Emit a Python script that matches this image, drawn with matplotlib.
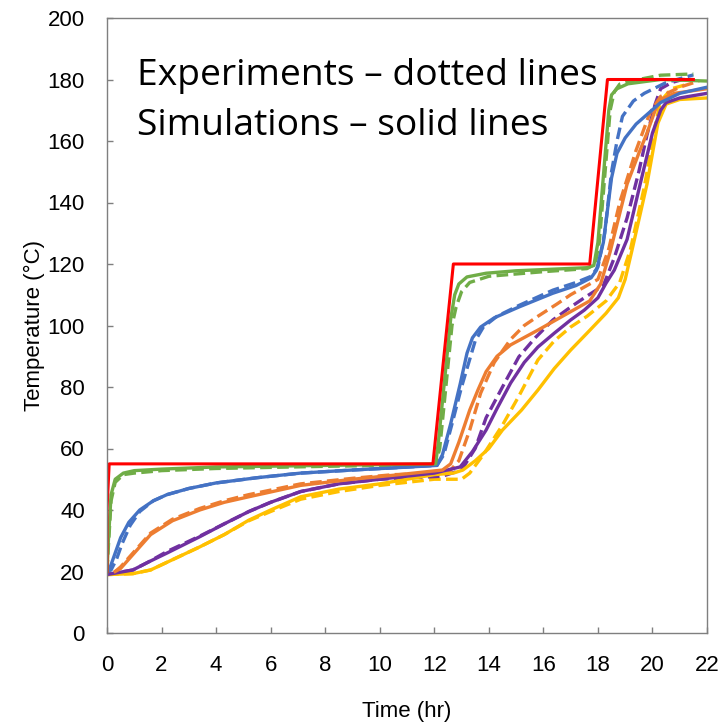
import matplotlib
matplotlib.use("Agg")
import matplotlib.pyplot as plt

# ---------------- data ----------------
t_setpoint = [0, 0.0, 0.08, 11.95, 12.7, 17.7, 18.35, 21.5]
T_setpoint = [20, 40, 55, 55, 120, 120, 180, 180]

t_green_sim = [0, 0.05, 0.15, 0.3, 0.6, 1.0, 2, 4, 8, 12.05, 12.15, 12.6, 12.75, 12.9, 13.2, 13.9, 15, 17.6,
               17.85, 18.0, 18.4, 18.5, 18.7, 19.1, 20.3, 22]
T_green_sim = [20, 30, 45, 50, 52, 52.8, 53.3, 54, 54.5, 55, 62, 102, 110, 113.5, 115.8, 117, 117.8, 118.8,
               119.5, 127, 170, 175, 177, 178.6, 180, 179.5]
t_green_exp = [0, 0.05, 0.15, 0.3, 0.6, 1.0, 2, 4, 8, 12.05, 12.2, 12.65, 12.8, 13.0, 13.3, 14, 16, 17.6,
               17.9, 18.05, 18.45, 18.6, 18.8, 19.2, 20.3, 21.5]
T_green_exp = [20, 28, 43, 49, 51.5, 52, 52.8, 53.5, 54.2, 54.8, 60, 100, 106, 111, 114, 116, 117.5, 118.5,
               120, 127, 170, 176, 178.5, 179.5, 181.4, 181.8]

t_blue_sim = [0, 0.1, 0.3, 0.5, 0.8, 1.2, 1.7, 2.2, 3, 4, 5.5, 7.1, 9, 10.5, 12.1, 12.3, 12.6, 12.95, 13.2,
              13.4, 13.7, 14.2, 15.1, 16.35, 17.2, 17.75, 17.95, 18.2, 18.5, 18.7, 19.0, 19.4, 20.3, 21, 22]
T_blue_sim = [20, 21, 26, 31, 36, 40, 43, 45, 47, 48.8, 50.5, 52, 53, 53.7, 54.5, 58, 68, 81, 91,
              96, 99.5, 102.5, 106, 110.5, 113, 115.5, 118, 127, 148, 156, 161, 165.5, 172.5, 175.5, 177.5]
t_blue_exp = [0, 0.15, 0.35, 0.55, 0.85, 1.2, 1.7, 2.2, 3, 4, 5.5, 7.1, 9, 10.5, 12.1, 12.35, 12.65, 13.0,
              13.3, 13.5, 13.8, 14.3, 15.1, 16.35, 17.2, 17.75, 18.0, 18.25, 18.5, 18.7, 18.9, 19.3, 19.7,
              20.5, 21.5]
T_blue_exp = [20, 20.5, 24, 29, 35, 39.5, 43, 45, 47, 48.8, 50.5, 52, 53, 53.7, 54.5, 58, 68, 80,
              89, 95, 99.5, 103, 106.5, 111.5, 114, 116, 119, 130, 150, 160, 168, 173, 175.5,
              179, 181.5]

t_orange_sim = [0.3, 0.5, 1, 1.6, 2.4, 3.4, 4.3, 5.2, 7.1, 9, 10.5, 12.3, 12.6, 12.9, 13.3, 13.6, 13.9, 14.3,
                14.8, 15.8, 17.0, 17.7, 18.1, 18.45, 19.07, 19.5, 19.8, 20.1, 20.3, 20.8, 22]
T_orange_sim = [20, 21, 26, 32, 36.5, 40, 42.5, 44.3, 48, 50, 51.3, 53, 55, 62, 72.5, 79, 85, 90,
                93.7, 98.5, 104.5, 108, 113.5, 124, 146, 156, 162.6, 170, 173.5, 175.5, 177]
t_orange_exp = [0.3, 0.5, 1, 1.6, 2.4, 3.4, 4.3, 5.2, 7.1, 9, 10.5, 12.5, 12.9, 13.3, 13.7, 14.2, 14.8,
                15.3, 15.8, 16.5, 17, 17.5, 18.0, 18.4, 18.8, 19.4, 19.9, 20.3, 21, 21.7]
T_orange_exp = [20, 21.5, 26.5, 32.5, 37, 40.5, 43, 45, 48.5, 50.3, 51.5, 52, 56, 66, 78, 88, 95.5,
                100, 103, 107, 110, 112.5, 115, 125, 140, 157, 169, 174.5, 177.5, 179.5]

t_purple_sim = [0, 0.95, 1.5, 2.2, 3.4, 4.3, 5.2, 6, 7.1, 8.5, 10, 12, 12.95, 13.4, 13.9, 14.3, 14.8, 15.3,
                15.8, 16.4, 17, 17.5, 18.0, 18.3, 18.6, 19.07, 19.55, 20.0, 20.3, 20.5, 21, 22]
T_purple_sim = [19, 20.5, 23, 26, 31.3, 35.5, 39.5, 42.5, 46, 48.5, 50, 52, 54, 59, 66, 73, 81.3, 88,
                93, 97.5, 101.8, 105, 109, 113.8, 118, 128, 146, 162.6, 170, 172.5, 174, 175.5]
t_purple_exp = [0, 0.95, 1.5, 2.2, 3.4, 4.3, 5.2, 6, 7.1, 8.5, 10, 12.3, 13.0, 13.5, 13.9, 14.5, 15.1,
                15.7, 16.35, 17, 17.5, 18.2, 18.6, 19.07, 19.5, 19.8, 20.1, 20.3, 20.7, 21.1, 21.5]
T_purple_exp = [19, 20.5, 23, 26.5, 31.5, 35.5, 39.5, 42.5, 46, 48.5, 50, 51, 53, 60, 70, 80, 89.8,
                96, 101.8, 106, 109, 113, 122, 135, 150, 162, 172, 177, 179, 180, 180]

t_yellow_sim = [0, 0.95, 1.6, 2.2, 3.4, 4.3, 5.2, 6, 7.1, 8.5, 10, 12, 12.7, 13.05, 13.5, 14, 14.5, 15.2,
                15.8, 16.4, 17, 17.6, 18.3, 18.75, 19.0, 19.25, 19.8, 20.2, 20.5, 21, 22]
T_yellow_sim = [19, 19.3, 20.5, 23, 28, 32, 36.7, 40, 44.3, 46.8, 48.5, 51.5, 52, 53, 56, 60, 66, 72.5,
                79, 86, 92, 97.5, 104, 109, 115, 124.5, 146, 165.8, 172, 173.5, 174]
t_yellow_exp = [0, 0.95, 1.6, 2.2, 3.4, 4.3, 5.2, 6, 7.1, 8.5, 10, 12.0, 13.0, 13.3, 13.8, 14.5, 15.1,
                15.8, 16.4, 17, 17.6, 18.3, 18.8, 19.2, 19.7, 20.1, 20.3, 20.7, 21.3]
T_yellow_exp = [19, 19.3, 20.5, 23, 28, 32, 36.5, 39.5, 43.5, 46, 48, 50, 50, 52, 58, 67.6, 77,
                88.8, 95, 99.5, 103, 108, 114, 125, 145, 165, 173, 177, 178.5]

x_ticks = list(range(0, 23, 2))
y_ticks = list(range(0, 201, 20))

# ---------------- plot ----------------
plt.rcParams['font.family'] = ['Liberation Sans', 'DejaVu Sans']

fig = plt.figure(figsize=(7.18, 7.24), dpi=100)
ax = fig.add_axes([107 / 718, (724 - 633) / 724, 600 / 718, 615 / 724])

c_red = '#FF0000'
c_green = '#70AD47'
c_blue = '#4472C4'
c_orange = '#ED7D31'
c_purple = '#7030A0'
c_yellow = '#FFC000'

lw = 2.4
dash = (3.5, 1.6)

for t, T, c in [(t_yellow_exp, T_yellow_exp, c_yellow), (t_purple_exp, T_purple_exp, c_purple),
                (t_orange_exp, T_orange_exp, c_orange), (t_blue_exp, T_blue_exp, c_blue),
                (t_green_exp, T_green_exp, c_green)]:
    ax.plot(t, T, color=c, lw=lw, ls=(0, dash), dash_capstyle='butt')

for t, T, c in [(t_yellow_sim, T_yellow_sim, c_yellow), (t_purple_sim, T_purple_sim, c_purple),
                (t_orange_sim, T_orange_sim, c_orange), (t_blue_sim, T_blue_sim, c_blue),
                (t_green_sim, T_green_sim, c_green)]:
    ax.plot(t, T, color=c, lw=lw, solid_joinstyle='round')

ax.plot(t_setpoint, T_setpoint, color=c_red, lw=2.2)

ax.set_xlim(0, 22)
ax.set_ylim(0, 200)
ax.set_xticks(x_ticks)
ax.set_yticks(y_ticks)
ax.tick_params(direction='in', length=4, width=1, color='#7f7f7f', labelsize=16)
ax.tick_params(axis='x', pad=16)
ax.tick_params(axis='y', pad=16)
for s in ax.spines.values():
    s.set_color('#7f7f7f')
    s.set_linewidth(1)

ax.set_xlabel('Time (hr)', fontsize=16, labelpad=18)
ax.set_ylabel('Temperature (°C)', fontsize=16, labelpad=2)

ax.text(0.05, 0.905, 'Experiments – dotted lines', transform=ax.transAxes, fontsize=26.8,
        family=['Open Sans', 'DejaVu Sans'], va='center', ha='left')
ax.text(0.05, 0.825, 'Simulations – solid lines', transform=ax.transAxes, fontsize=26.8,
        family=['Open Sans', 'DejaVu Sans'], va='center', ha='left')

fig.savefig('out.png', dpi=100)
